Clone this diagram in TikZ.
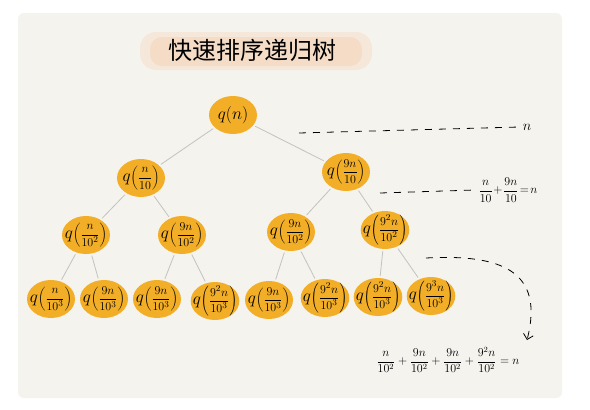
\documentclass[tikz,border=0pt]{standalone}
\usepackage{fontspec}
\newfontfamily\cjkfont{Noto Sans CJK SC}
\usetikzlibrary{shapes.geometric,arrows.meta,positioning}
\definecolor{CardBg}{HTML}{F5F3EE}
\definecolor{NodeOrange}{HTML}{F3AE28}
\definecolor{EdgeGrey}{HTML}{C2C2C0}
\definecolor{TitlePeach}{HTML}{F6D2B4}
\newcommand\bigq{\mbox{\fontsize{18}{20}\selectfont$q$}}

\begin{document}
\begin{tikzpicture}[
    x=1pt, y=-1pt,
    qnode/.style={
      ellipse, fill=NodeOrange, inner sep=-5pt,
      minimum width=48pt, minimum height=38pt,
      font=\fontsize{13}{15}\selectfont, execute at begin node=\everymath{\displaystyle}
    },
    edge/.style={EdgeGrey, thick, shorten <=2pt, shorten >=2pt},
    lvl/.style={thick, dash pattern=on 7pt off 7pt},
    sumlbl/.style={font=\fontsize{12}{14}\selectfont}
  ]
    \useasboundingbox (0,0) rectangle (590,410);
    \fill[white] (0,0) rectangle (590,410);
    \fill[CardBg, rounded corners=6pt] (18,13) rectangle (562,398);

    % title with a soft blob behind it
    \fill[TitlePeach, opacity=0.35, rounded corners=16pt] (140,32) rectangle (372,70);
    \fill[TitlePeach, opacity=0.5, rounded corners=12pt] (150,37) rectangle (362,66);
    \node (title) at (252,50) {\cjkfont\fontsize{24}{26}\selectfont 快速排序递归树};

    % tree
    \node[qnode, font=\fontsize{17}{19}\selectfont] (r) at (233,115) {$q(n)$};

    \node[qnode] (a) at (141,178) {$\bigq\!\left(\frac{n}{10}\right)$};
    \node[qnode] (b) at (346,172) {$\bigq\!\left(\frac{9n}{10}\right)$};

    \node[qnode] (aa) at (86,235)  {$\bigq\!\left(\frac{n}{10^2}\right)$};
    \node[qnode] (ab) at (182,235) {$\bigq\!\left(\frac{9n}{10^2}\right)$};
    \node[qnode] (ba) at (291,232) {$\bigq\!\left(\frac{9n}{10^2}\right)$};
    \node[qnode] (bb) at (385,230) {$\bigq\!\left(\frac{9^2n}{10^2}\right)$};

    \node[qnode] (aaa) at (51,299)  {$\bigq\!\left(\frac{n}{10^3}\right)$};
    \node[qnode] (aab) at (104,299) {$\bigq\!\left(\frac{9n}{10^3}\right)$};
    \node[qnode] (aba) at (157,299) {$\bigq\!\left(\frac{9n}{10^3}\right)$};
    \node[qnode] (abb) at (215,301) {$\bigq\!\left(\frac{9^2n}{10^3}\right)$};
    \node[qnode] (baa) at (269,300) {$\bigq\!\left(\frac{9n}{10^3}\right)$};
    \node[qnode] (bab) at (325,298) {$\bigq\!\left(\frac{9^2n}{10^3}\right)$};
    \node[qnode] (bba) at (378,297) {$\bigq\!\left(\frac{9^2n}{10^3}\right)$};
    \node[qnode] (bbb) at (431,296) {$\bigq\!\left(\frac{9^3n}{10^3}\right)$};

    \foreach \p/\c in {r/a, r/b, a/aa, a/ab, b/ba, b/bb,
                       aa/aaa, aa/aab, ab/aba, ab/abb,
                       ba/baa, ba/bab, bb/bba, bb/bbb}
      \draw[edge] (\p) -- (\c);

    % cost of each level
    \node[sumlbl, font=\fontsize{14}{16}\selectfont] (s0) at (527,127) {$n$};
    \node[sumlbl] (s1) at (508,190) {$\displaystyle\frac{n}{10}\!+\!\frac{9n}{10}\!=\!n$};
    \node[sumlbl] (s2) at (448,360)
      {$\displaystyle\frac{n}{10^2}+\frac{9n}{10^2}+\frac{9n}{10^2}+\frac{9^2n}{10^2}=n$};

    \coordinate (d0) at (299,133);
    \coordinate (d1) at (380,193);
    \coordinate (d2) at (426,258);

    \draw[lvl] (d0) -- (s0.west);
    \draw[lvl] (d1) -- (s1.west);
    \draw[lvl, -{Straight Barb[length=5pt]}] (d2)
      .. controls (500,254) and (545,270) .. (527,340);
  \end{tikzpicture}
\end{document}
